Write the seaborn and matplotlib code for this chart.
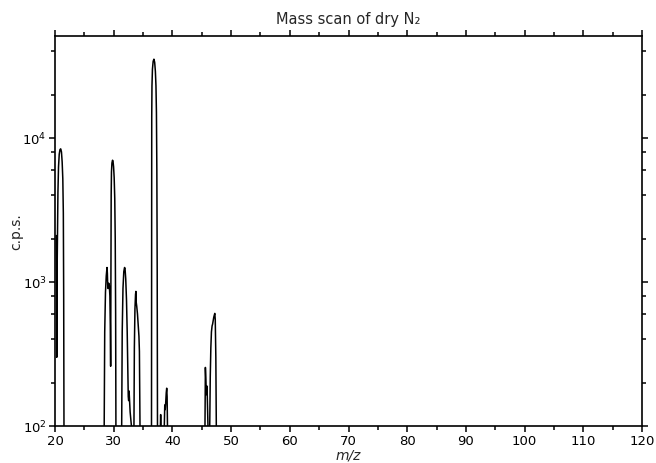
import numpy as np
import pandas as pd
import matplotlib
matplotlib.use("Agg")
import matplotlib.pyplot as plt
from matplotlib.ticker import MultipleLocator, LogLocator
import seaborn as sns

# ---- data (values < 100 are off-scale, drawn as 10) ----
mz_21 = [20.20, 20.27, 20.30, 20.36, 20.42, 20.50, 20.60, 20.72, 20.85, 20.97,
         21.10, 21.22, 21.33, 21.42, 21.48, 21.53, 21.58]
cps_21 = [2100, 900, 300, 1200, 2200, 4200, 6300, 7700, 8300, 8400,
          8000, 6800, 5200, 3000, 800, 100, 10]

mz_29 = [28.30, 28.38, 28.47, 28.60, 28.73, 28.86, 28.92, 28.98, 29.05, 29.15,
         29.25, 29.35, 29.42, 29.48, 29.53, 29.57, 29.62, 29.70, 29.80, 29.88,
         29.98, 30.08, 30.18, 30.26, 30.33, 30.38, 30.43]
cps_29 = [10, 100, 450, 850, 1100, 1260, 1150, 950, 900, 980,
          950, 800, 500, 260, 1500, 4000, 5800, 6700, 7000, 6900,
          6300, 5300, 3800, 2000, 600, 100, 10]

mz_32 = [31.30, 31.36, 31.45, 31.58, 31.72, 31.85, 31.93, 32.05, 32.18, 32.30,
         32.40, 32.48, 32.55, 32.62, 32.70, 32.80, 32.92, 33.02, 33.08]
cps_32 = [10, 100, 450, 900, 1180, 1260, 1240, 1050, 750, 450,
          250, 160, 150, 175, 150, 125, 110, 100, 10]

mz_34 = [33.40, 33.45, 33.52, 33.62, 33.72, 33.78, 33.84, 33.92, 34.05, 34.18,
         34.30, 34.38, 34.44, 34.48, 34.52]
cps_34 = [10, 100, 350, 650, 820, 860, 720, 680, 600, 500,
          420, 330, 180, 100, 10]

mz_37 = [36.40, 36.44, 36.46, 36.48, 36.52, 36.60, 36.72, 36.85, 36.98, 37.10,
         37.20, 37.28, 37.35, 37.41, 37.46, 37.50]
cps_37 = [10, 100, 3000, 14000, 23000, 30000, 34000, 35200, 33500, 29000,
          23000, 15000, 6000, 1200, 100, 10]

mz_39 = [37.92, 37.96, 38.00, 38.04, 38.08, 38.55, 38.62, 38.70, 38.78, 38.86,
         38.95, 39.03, 39.10, 39.16, 39.22]
cps_39 = [10, 100, 120, 100, 10, 10, 100, 140, 130, 145,
          170, 183, 160, 100, 10]

mz_47 = [45.50, 45.55, 45.62, 45.70, 45.78, 45.85, 45.92, 46.00, 46.06, 46.10,
         46.30, 46.36, 46.45, 46.55, 46.65, 46.76, 46.85, 46.95, 47.05, 47.15,
         47.22, 47.30, 47.40, 47.48, 47.54]
cps_47 = [10, 100, 255, 210, 165, 190, 175, 130, 100, 10,
          10, 100, 220, 350, 450, 495, 510, 540, 570, 590,
          605, 550, 300, 100, 10]

mz = mz_21 + mz_29 + mz_32 + mz_34 + mz_37 + mz_39 + mz_47
cps = cps_21 + cps_29 + cps_32 + cps_34 + cps_37 + cps_39 + cps_47
df = pd.DataFrame({"m/z": mz, "c.p.s.": cps})

title = "Mass scan of dry N\u2082"
x_label = "m/z"
y_label = "c.p.s."

# ---- plot ----
sns.set_style("ticks")
plt.rcParams["font.family"] = ["DejaVu Sans"]

fig = plt.figure(figsize=(6.56, 4.64), dpi=100)
ax = fig.add_axes([55 / 656, 37 / 464, (642 - 55) / 656, (427 - 37) / 464])

sns.lineplot(data=df, x="m/z", y="c.p.s.", ax=ax, color="black",
             linewidth=1.1, estimator=None, sort=False)

ax.set_yscale("log")
ax.set_xlim(20, 120)
ax.set_ylim(100, 5.1e4)

ax.xaxis.set_major_locator(MultipleLocator(10))
ax.xaxis.set_minor_locator(MultipleLocator(5))
ax.yaxis.set_major_locator(LogLocator(base=10, numticks=10))
ax.yaxis.set_minor_locator(LogLocator(base=10, subs=[2, 4, 6, 8], numticks=10))

for side in ["top", "right", "left", "bottom"]:
    ax.spines[side].set_visible(True)
    ax.spines[side].set_linewidth(1.2)
    ax.spines[side].set_color("black")

ax.tick_params(which="both", direction="out", top=True, right=True,
               labeltop=False, labelright=False, colors="black", width=1.1)
ax.tick_params(which="major", length=4, labelsize=9.5, pad=2)
ax.tick_params(which="minor", length=3)

ax.set_title(title, fontsize=10.5, pad=9)
ax.set_xlabel(x_label, fontsize=10, style="italic", labelpad=0)
ax.set_ylabel(y_label, fontsize=10, labelpad=-1)

fig.savefig("out.png", dpi=100)
